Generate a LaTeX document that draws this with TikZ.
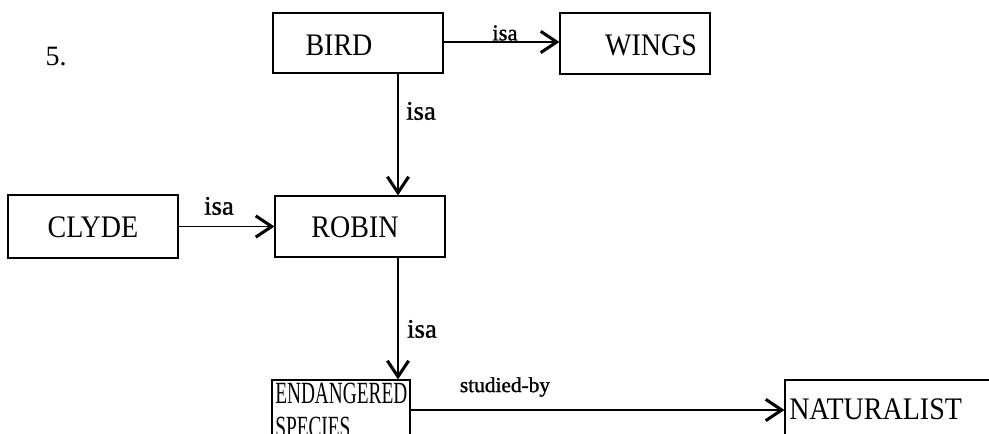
\documentclass[tikz,border=0pt]{standalone}
\usepackage{fontspec}
\setmainfont{Liberation Serif}
\newfontface\relfont{Liberation Serif}[FakeBold=1.2]
\usetikzlibrary{arrows.meta}
\newcommand{\tallword}[1]{\scalebox{1}[1.12]{#1}}
\newcommand{\narrowword}[1]{\scalebox{0.69}[1.1]{#1}}
\begin{document}
\begin{tikzpicture}[x=0.75pt,y=-0.75pt,
  concept/.style={draw,line width=0.8pt,inner sep=0pt},
  rel/.style={line width=0.8pt,-{Straight Barb[length=12pt,width=16pt,line width=2.3pt]}},
  lbl/.style={font=\relfont\fontsize{20}{22}\selectfont,inner sep=0pt},
  smalllbl/.style={font=\relfont\fontsize{17}{19}\selectfont,inner sep=0pt},
  word/.style={font=\fontsize{21}{22}\selectfont,inner sep=0pt}]
\useasboundingbox (0,0) rectangle (989,434);
\begin{scope}
\clip (0,0) rectangle (989,434);

% concept boxes
\node[concept,minimum width=170*0.75pt,minimum height=60*0.75pt] (bird) at (358,43) {};
\node[concept,minimum width=150*0.75pt,minimum height=61*0.75pt] (wings) at (635,43.5) {};
\node[concept,minimum width=170*0.75pt,minimum height=63*0.75pt] (clyde) at (93,226.5) {};
\node[concept,minimum width=170*0.75pt,minimum height=61*0.75pt] (robin) at (360,226.5) {};
\node[concept,minimum width=138*0.75pt,minimum height=90*0.75pt] (endang) at (341,425) {};
\node[concept,minimum width=230*0.75pt,minimum height=90*0.75pt] (natur) at (900,425) {};

% box texts
\node[word] (tbird) at (339,45) {\tallword{BIRD}};
\node[word] (twings) at (651,45) {\tallword{WINGS}};
\node[word] (tclyde) at (93,227) {\tallword{CLYDE}};
\node[word] (trobin) at (355,227) {\tallword{ROBIN}};
\node[word,anchor=base west] (tendang) at (275,404) {\narrowword{ENDANGERED}};
\node[word,anchor=base west] (tspecies) at (275,438) {\narrowword{SPECIES}};
\node[word,anchor=base west] (tnatur) at (789,420) {\tallword{NATURALIST}};

% number
\node[word] (num) at (56,57) {5.};

% connectors
\coordinate (bw) at (bird.east |- 0,42);
\draw[rel] (bw) -- (wings.west |- bw);
\coordinate (bv) at (398,0);
\draw[rel] (bird.south -| bv) -- (robin.north -| bv);
\draw[rel] (clyde.east) -- (robin.west |- clyde.east);
\draw[rel] (robin.south -| bv) -- (endang.north -| bv);
\coordinate (en) at (0,410);
\draw[rel] (endang.east |- en) -- (natur.west |- en);

% relation labels
\node[smalllbl] (l1) at (505,33) {isa};
\node[lbl] (l2) at (421,111) {isa};
\node[lbl] (l3) at (219,206) {isa};
\node[lbl] (l4) at (422,329) {isa};
\node[lbl,font=\relfont\fontsize{16}{18}\selectfont] (l5) at (505,387) {studied-by};
\end{scope}
\end{tikzpicture}
\end{document}
